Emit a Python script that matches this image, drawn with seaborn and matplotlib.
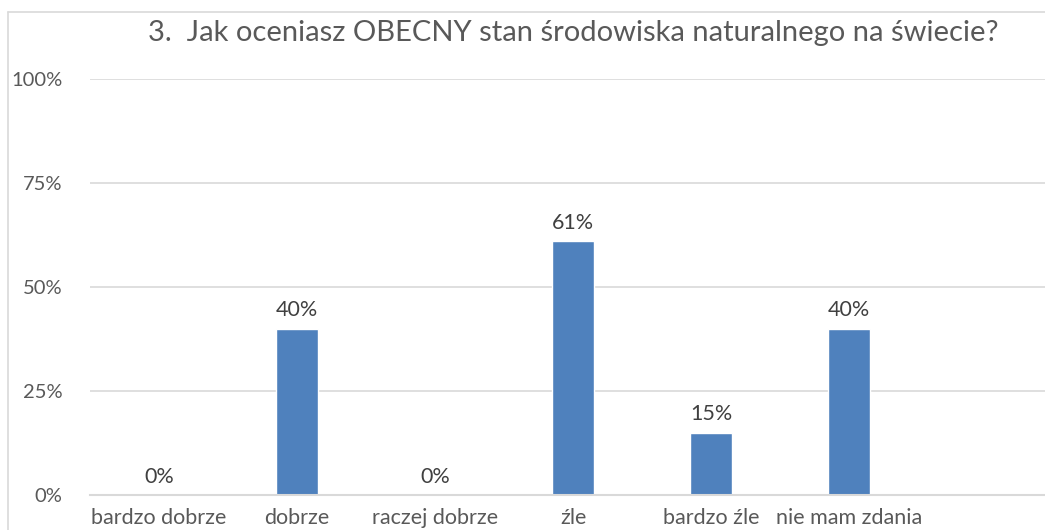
import pandas as pd
import seaborn as sns
import matplotlib.pyplot as plt
from matplotlib.lines import Line2D

# data
categories = ["bardzo dobrze", "dobrze", "raczej dobrze", "źle", "bardzo źle", "nie mam zdania"]
values = [0, 40, 0, 61, 15, 40]
y_ticks = [0, 25, 50, 75, 100]
y_tick_labels = ["0%", "25%", "50%", "75%", "100%"]
title = "3.  Jak oceniasz OBECNY stan środowiska naturalnego na świecie?"

BAR = "#4F81BD"
GRID = "#D9D9D9"
TEXT = "#595959"

sns.set_style("white")
plt.rcParams["font.family"] = ["Lato", "DejaVu Sans"]

df = pd.DataFrame({"category": categories, "value": values})

fig = plt.figure(figsize=(10.45, 5.3), dpi=100)
ax = fig.add_axes([90 / 1045, 35 / 530, 955 / 1045, 416 / 530])

sns.barplot(data=df, x="category", y="value", color=BAR, width=0.31,
            saturation=1, ax=ax)

ax.set_xlim(-0.5, 6.42)
ax.set_ylim(0, 100)
ax.set_yticks(y_ticks)
ax.set_yticklabels(y_tick_labels)
ax.set_xlabel("")
ax.set_ylabel("")

ax.grid(axis="y", color=GRID, linewidth=1.2)
ax.set_axisbelow(True)
for side in ["top", "right", "left"]:
    ax.spines[side].set_visible(False)
ax.spines["bottom"].set_color(GRID)
ax.spines["bottom"].set_linewidth(1.5)

ax.tick_params(axis="y", length=0, pad=20, labelsize=14.5, labelcolor=TEXT)
ax.tick_params(axis="x", length=0, pad=9, labelsize=15.5, labelcolor=TEXT)

for container in ax.containers:
    ax.bar_label(container, labels=[f"{v}%" for v in values], padding=6,
                 fontsize=15.5, color="#404040")

fig.text(573 / 1045, 1 - 33 / 530, title, ha="center", va="center",
         fontsize=21, color=TEXT)

# chart area border (cropped at right and bottom)
fig.add_artist(Line2D([8 / 1045, 8 / 1045], [0, 1 - 12 / 530],
                      color=GRID, linewidth=1.2, transform=fig.transFigure))
fig.add_artist(Line2D([8 / 1045, 1], [1 - 12 / 530, 1 - 12 / 530],
                      color=GRID, linewidth=1.2, transform=fig.transFigure))

fig.savefig("out.png", dpi=100)
